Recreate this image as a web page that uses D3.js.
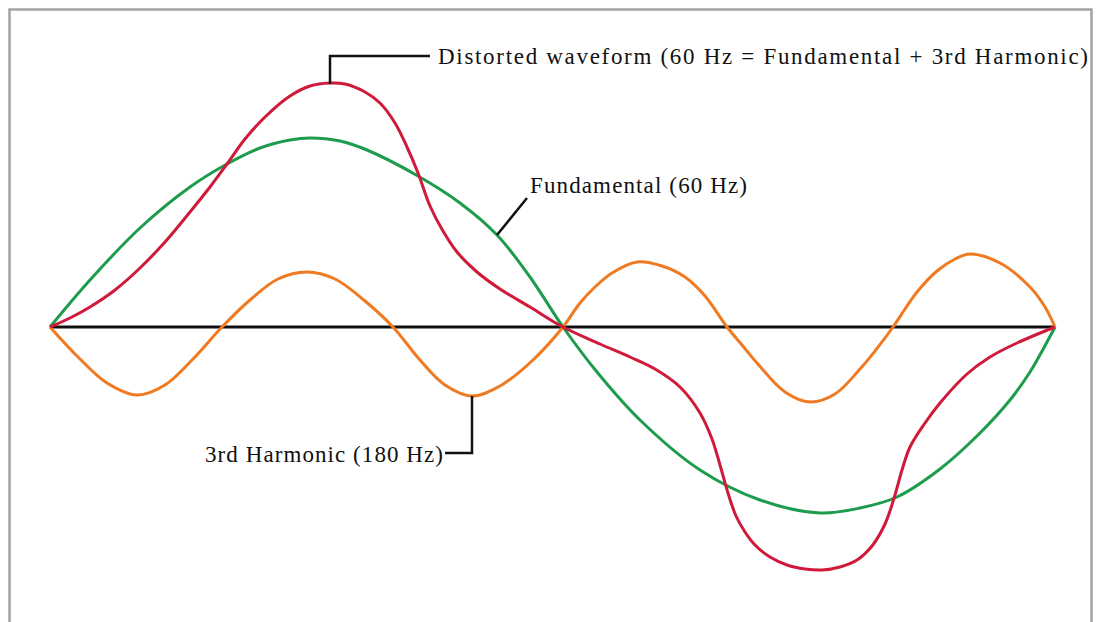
<!DOCTYPE html>
<html>
<head>
<meta charset="utf-8">
<script src="https://cdn.jsdelivr.net/npm/d3@7"></script>
<style>
  html, body { margin: 0; padding: 0; background: #fff; }
  svg { display: block; }
</style>
</head>
<body>
<svg id="chart" width="1101" height="622"></svg>
<script>
// samples: t = position along the cycle, v = amplitude (up is positive)
const fundamental = [
  [0, 0], [40, 47], [90, 99], [140, 140], [177, 163], [210, 179], [240, 187], [260, 189],
  [290, 186], [317, 177], [368, 151], [410, 124], [447, 92], [480, 50],
  [513, 0], [547, -45], [590, -93], [650, -143], [710, -173], [770, -186], [810, -181],
  [847, -170], [890, -142], [930, -106], [960, -73], [980, -45], [1005, 0]
];

const harmonic3 = [
  [0, 0], [28, -30], [57, -56], [87, -68], [115, -58], [143, -32], [172, 0],
  [200, 27], [228, 48], [257, 55], [285, 48], [315, 26], [343, 0],
  [370, -33], [395, -58], [422, -69], [450, -59], [483, -33], [513, 0],
  [530, 24], [545, 40], [562, 54], [587, 65], [612, 61], [635, 50], [655, 31], [677, 0],
  [692, -18], [707, -36], [735, -65], [760, -75], [785, -67], [810, -42], [825, -24], [843, 0],
  [855, 18], [867, 35], [887, 56], [905, 68], [920, 73], [950, 64], [980, 40], [995, 20], [1005, 0]
];

const distorted = [
  [0, 0], [20, 9], [40, 20], [65, 37], [90, 59], [115, 85], [140, 115], [160, 140],
  [177, 163], [195, 188], [215, 210], [240, 231], [260, 241], [280, 244], [295, 243],
  [315, 235], [330, 224], [345, 204], [357, 180], [368, 154], [380, 121], [393, 96],
  [407, 75], [427, 55], [450, 38], [480, 20], [513, 0], [550, -17], [580, -30],
  [605, -42], [630, -60], [650, -86], [662, -112], [670, -138], [678, -166],
  [686, -189], [695, -205], [705, -218], [720, -230], [737, -238], [755, -242],
  [772, -243], [790, -240], [807, -233], [822, -219], [835, -197], [845, -168],
  [852, -143], [860, -120], [875, -96], [890, -76], [917, -47], [940, -30],
  [967, -16], [1005, 0]
];

const seriesNames = ["fundamental", "harmonic3", "distorted"];
const seriesData = [fundamental, harmonic3, distorted];
const seriesColors = ["#1e9c4d", "#f07a22", "#cf1a3a"];

const labels = [
  "Distorted waveform (60 Hz = Fundamental + 3rd Harmonic)",
  "Fundamental (60 Hz)",
  "3rd Harmonic (180 Hz)"
];

const svg = d3.select("#chart");

// frame round the picture
svg.append("rect")
  .attr("x", 9.5).attr("y", 9.5)
  .attr("width", 1082).attr("height", 700)
  .attr("fill", "none")
  .attr("stroke", "#a3a3a3")
  .attr("stroke-width", 2.5);

const x = d3.scaleLinear().domain([0, 1005]).range([50, 1055]);
const y = d3.scaleLinear().domain([-250, 250]).range([577, 77]);

const line = d3.line()
  .x(d => x(d[0]))
  .y(d => y(d[1]))
  .curve(d3.curveCatmullRom.alpha(0.5));

// zero line
svg.append("line")
  .attr("x1", x(0)).attr("x2", x(1005))
  .attr("y1", y(0)).attr("y2", y(0))
  .attr("stroke", "#111")
  .attr("stroke-width", 3);

// waves, fundamental first then harmonic then distorted on top
seriesData.forEach((data, i) => {
  svg.append("path")
    .datum(data)
    .attr("class", "wave " + seriesNames[i])
    .attr("fill", "none")
    .attr("stroke", seriesColors[i])
    .attr("stroke-width", 3)
    .attr("stroke-linejoin", "round")
    .attr("d", line);
});

// callouts
const callout = svg.append("g")
  .attr("fill", "none")
  .attr("stroke", "#111")
  .attr("stroke-width", 2.5);

callout.append("path").attr("d", `M${x(280)},${y(243)} V56 H430`);
callout.append("path").attr("d", `M${x(447)},${y(92)} L527,198`);
callout.append("path").attr("d", `M${x(422)},${y(-69)} V453 H445`);

function label(txt, px, py, len) {
  svg.append("text")
    .attr("x", px).attr("y", py)
    .style("font-family", "Liberation Serif")
    .attr("font-size", 23)
    .attr("fill", "#111")
    .attr("textLength", len)
    .attr("lengthAdjust", "spacing")
    .text(txt);
}

label(labels[0], 438, 64, 650);
label(labels[1], 530, 193, 217);
label(labels[2], 205, 462, 238);
</script>
</body>
</html>
